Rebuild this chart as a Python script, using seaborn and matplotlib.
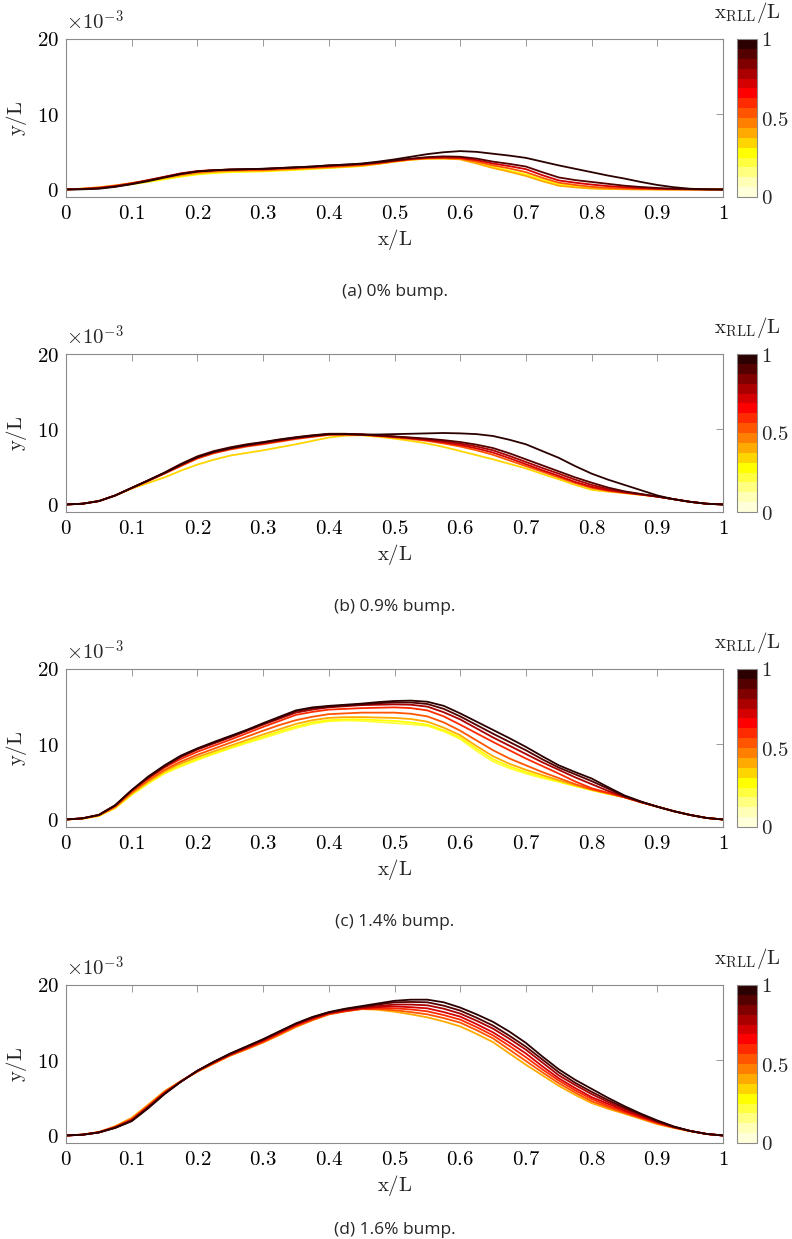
import numpy as np
import pandas as pd
import matplotlib
matplotlib.use("Agg")
import matplotlib.pyplot as plt
import seaborn as sns
from matplotlib.colors import ListedColormap, BoundaryNorm

# ---------------- data ----------------
x_pos = [0, 0.025, 0.05, 0.075, 0.1, 0.125, 0.15, 0.175, 0.2, 0.225, 0.25, 0.275, 0.3, 0.325,
         0.35, 0.375, 0.4, 0.425, 0.45, 0.475, 0.5, 0.525, 0.55, 0.575, 0.6, 0.625, 0.65, 0.675,
         0.7, 0.725, 0.75, 0.775, 0.8, 0.825, 0.85, 0.875, 0.9, 0.925, 0.95, 0.975, 1.0]

# panel (a) 0% bump : curves keyed by x_RLL/L
a_levels = [0.25, 0.4, 0.55, 0.7, 0.9, 1.0]
a_curves = [
    [0, 0.08, 0.2, 0.42, 0.7, 1.0, 1.35, 1.7, 2.0, 2.18, 2.3, 2.35, 2.4, 2.5, 2.6, 2.72, 2.85, 2.97, 3.1, 3.38,
     3.7, 3.95, 4.1, 4.12, 4.05, 3.55, 3.0, 2.5, 2.0, 1.3, 0.7, 0.4, 0.2, 0.1, 0.05, 0.02, 0, 0, 0, 0, 0],
    [0, 0.12, 0.3, 0.55, 0.85, 1.15, 1.5, 1.85, 2.15, 2.33, 2.45, 2.48, 2.5, 2.6, 2.7, 2.8, 2.9, 3.02, 3.15, 3.4,
     3.7, 3.95, 4.1, 4.1, 4.0, 3.45, 2.85, 2.35, 1.8, 1.1, 0.5, 0.28, 0.12, 0.06, 0.03, 0.01, 0, 0, 0, 0, 0],
    [0, 0.1, 0.25, 0.5, 0.85, 1.2, 1.6, 2.0, 2.3, 2.45, 2.55, 2.58, 2.6, 2.7, 2.8, 2.9, 3.0, 3.12, 3.25, 3.45,
     3.75, 4.0, 4.15, 4.18, 4.1, 3.7, 3.2, 2.8, 2.3, 1.55, 0.9, 0.6, 0.35, 0.22, 0.12, 0.07, 0.03, 0.01, 0, 0, 0],
    [0, 0.07, 0.2, 0.45, 0.8, 1.25, 1.7, 2.15, 2.45, 2.58, 2.65, 2.68, 2.7, 2.8, 2.9, 3.0, 3.1, 3.22, 3.35, 3.55,
     3.8, 4.05, 4.2, 4.25, 4.2, 3.9, 3.45, 3.1, 2.7, 1.9, 1.2, 0.9, 0.65, 0.45, 0.3, 0.18, 0.1, 0.05, 0.02, 0, 0],
    [0, 0.05, 0.15, 0.4, 0.75, 1.2, 1.65, 2.1, 2.4, 2.55, 2.65, 2.7, 2.75, 2.85, 2.95, 3.05, 3.2, 3.3, 3.4, 3.6,
     3.85, 4.1, 4.3, 4.4, 4.35, 4.1, 3.7, 3.4, 3.05, 2.3, 1.6, 1.25, 1.0, 0.75, 0.5, 0.33, 0.2, 0.1, 0.05, 0.02, 0],
    [0, 0.02, 0.1, 0.35, 0.7, 1.1, 1.6, 2.05, 2.4, 2.55, 2.65, 2.7, 2.75, 2.85, 2.95, 3.05, 3.2, 3.3, 3.45, 3.7,
     4.0, 4.35, 4.7, 4.95, 5.1, 5.0, 4.75, 4.5, 4.2, 3.7, 3.2, 2.75, 2.3, 1.85, 1.45, 1.0, 0.6, 0.3, 0.1, 0.02, 0],
]

# panel (b) 0.9% bump
b_levels = [0.35, 0.55, 0.7, 0.8, 0.9, 1.0]
b_curves = [
    [0, 0.1, 0.45, 1.2, 2.1, 2.85, 3.6, 4.5, 5.3, 5.95, 6.5, 6.85, 7.2, 7.6, 8.0, 8.45, 8.9, 9.15, 9.2, 9.0,
     8.75, 8.45, 8.1, 7.65, 7.1, 6.55, 6.0, 5.4, 4.8, 4.05, 3.35, 2.6, 1.95, 1.7, 1.5, 1.28, 1.05, 0.7, 0.35, 0.1, 0],
    [0, 0.1, 0.45, 1.2, 2.15, 3.1, 4.1, 5.1, 6.1, 6.8, 7.3, 7.7, 8.0, 8.35, 8.7, 8.98, 9.25, 9.28, 9.25, 9.1,
     8.9, 8.7, 8.45, 8.1, 7.7, 7.2, 6.6, 5.85, 5.1, 4.35, 3.6, 2.85, 2.2, 1.8, 1.55, 1.3, 1.05, 0.7, 0.35, 0.1, 0],
    [0, 0.1, 0.45, 1.2, 2.2, 3.15, 4.15, 5.2, 6.2, 6.9, 7.4, 7.8, 8.1, 8.45, 8.8, 9.05, 9.3, 9.32, 9.3, 9.15,
     9.0, 8.8, 8.55, 8.25, 7.9, 7.45, 6.9, 6.15, 5.35, 4.55, 3.8, 3.0, 2.35, 1.9, 1.6, 1.33, 1.05, 0.7, 0.35, 0.1, 0],
    [0, 0.1, 0.45, 1.2, 2.2, 3.2, 4.2, 5.3, 6.3, 7.0, 7.5, 7.9, 8.2, 8.55, 8.85, 9.1, 9.35, 9.35, 9.3, 9.15,
     9.0, 8.85, 8.65, 8.4, 8.1, 7.7, 7.2, 6.45, 5.65, 4.85, 4.1, 3.3, 2.6, 2.05, 1.65, 1.35, 1.05, 0.7, 0.35, 0.1, 0],
    [0, 0.1, 0.45, 1.2, 2.2, 3.2, 4.25, 5.4, 6.4, 7.1, 7.6, 8.0, 8.3, 8.65, 8.95, 9.2, 9.4, 9.4, 9.3, 9.2,
     9.05, 8.9, 8.75, 8.55, 8.3, 7.95, 7.5, 6.8, 6.0, 5.2, 4.4, 3.6, 2.9, 2.25, 1.75, 1.4, 1.05, 0.7, 0.35, 0.1, 0],
    [0, 0.1, 0.45, 1.2, 2.2, 3.2, 4.2, 5.3, 6.3, 7.0, 7.5, 7.9, 8.25, 8.6, 8.9, 9.15, 9.35, 9.35, 9.3, 9.3,
     9.35, 9.4, 9.45, 9.5, 9.45, 9.35, 9.1, 8.6, 8.0, 7.1, 6.2, 5.1, 4.1, 3.3, 2.6, 1.9, 1.2, 0.7, 0.35, 0.1, 0],
]

# panel (c) 1.4% bump
c_levels = [0.2, 0.3, 0.4, 0.5, 0.6, 0.75, 0.9, 1.0]
c_curves = [
    [0, 0.1, 0.45, 1.5, 3.25, 4.75, 6.1, 7.05, 7.9, 8.7, 9.45, 10.15, 10.8, 11.5, 12.15, 12.7, 13.05, 13.15, 13.1, 12.95,
     12.8, 12.65, 12.45, 11.7, 10.7, 9.1, 7.7, 6.8, 6.1, 5.5, 5.0, 4.45, 3.9, 3.4, 2.95, 2.3, 1.7, 1.1, 0.6, 0.2, 0],
    [0, 0.12, 0.5, 1.55, 3.35, 4.85, 6.2, 7.2, 8.05, 8.8, 9.55, 10.3, 11.0, 11.7, 12.35, 12.9, 13.2, 13.3, 13.3, 13.2,
     13.1, 12.9, 12.6, 11.85, 10.9, 9.4, 8.0, 7.05, 6.3, 5.65, 5.05, 4.45, 3.9, 3.4, 2.95, 2.3, 1.7, 1.1, 0.6, 0.2, 0],
    [0, 0.12, 0.5, 1.6, 3.45, 5.0, 6.4, 7.45, 8.3, 9.05, 9.8, 10.55, 11.3, 12.0, 12.7, 13.2, 13.5, 13.6, 13.6, 13.55,
     13.5, 13.35, 13.0, 12.2, 11.2, 9.75, 8.4, 7.4, 6.6, 5.9, 5.2, 4.55, 3.95, 3.45, 2.95, 2.3, 1.7, 1.1, 0.6, 0.2, 0],
    [0, 0.12, 0.55, 1.7, 3.6, 5.2, 6.6, 7.7, 8.6, 9.4, 10.2, 11.0, 11.8, 12.55, 13.2, 13.65, 14.0, 14.1, 14.2, 14.2,
     14.2, 14.05, 13.7, 12.9, 11.8, 10.5, 9.2, 8.1, 7.2, 6.3, 5.5, 4.7, 4.0, 3.5, 2.95, 2.3, 1.7, 1.1, 0.6, 0.2, 0],
    [0, 0.15, 0.6, 1.8, 3.8, 5.45, 6.9, 8.05, 9.0, 9.8, 10.6, 11.45, 12.3, 13.1, 13.9, 14.3, 14.6, 14.7, 14.8, 14.85,
     14.9, 14.8, 14.5, 13.7, 12.6, 11.45, 10.3, 9.2, 8.1, 7.1, 6.1, 5.05, 4.15, 3.55, 2.95, 2.3, 1.7, 1.1, 0.6, 0.2, 0],
    [0, 0.15, 0.6, 1.85, 3.85, 5.5, 7.0, 8.3, 9.3, 10.1, 10.9, 11.75, 12.6, 13.4, 14.2, 14.6, 14.9, 15.05, 15.2, 15.25,
     15.3, 15.25, 15.0, 14.25, 13.3, 12.1, 10.9, 9.8, 8.7, 7.6, 6.6, 5.6, 4.7, 3.8, 3.0, 2.3, 1.7, 1.1, 0.6, 0.2, 0],
    [0, 0.15, 0.6, 1.9, 3.9, 5.6, 7.1, 8.4, 9.4, 10.2, 11.0, 11.85, 12.7, 13.55, 14.4, 14.8, 15.0, 15.15, 15.3, 15.45,
     15.55, 15.55, 15.35, 14.7, 13.7, 12.55, 11.4, 10.3, 9.2, 8.0, 6.9, 6.0, 5.1, 4.1, 3.1, 2.35, 1.7, 1.1, 0.6, 0.2, 0],
    [0, 0.15, 0.6, 1.9, 3.9, 5.7, 7.2, 8.5, 9.45, 10.3, 11.1, 11.9, 12.8, 13.65, 14.5, 14.9, 15.1, 15.25, 15.4, 15.6,
     15.75, 15.8, 15.65, 15.1, 14.1, 13.0, 11.9, 10.8, 9.65, 8.4, 7.2, 6.3, 5.45, 4.3, 3.2, 2.4, 1.7, 1.1, 0.6, 0.2, 0],
]

# panel (d) 1.6% bump
d_levels = [0.4, 0.5, 0.6, 0.7, 0.8, 0.9, 1.0]
d_curves = [
    [0, 0.12, 0.45, 1.25, 2.35, 4.1, 5.9, 7.25, 8.45, 9.55, 10.6, 11.45, 12.35, 13.35, 14.4, 15.3, 16.1, 16.5, 16.8, 16.7,
     16.45, 16.1, 15.7, 15.15, 14.5, 13.5, 12.4, 10.9, 9.4, 8.0, 6.6, 5.4, 4.3, 3.55, 2.9, 2.2, 1.5, 1.0, 0.55, 0.2, 0],
    [0, 0.12, 0.45, 1.15, 2.2, 3.95, 5.8, 7.2, 8.5, 9.6, 10.65, 11.5, 12.4, 13.45, 14.5, 15.35, 16.1, 16.5, 16.8, 16.8,
     16.65, 16.4, 16.1, 15.6, 15.0, 14.0, 12.9, 11.4, 9.9, 8.4, 6.95, 5.7, 4.55, 3.75, 3.0, 2.3, 1.6, 1.05, 0.6, 0.2, 0],
    [0, 0.1, 0.42, 1.12, 2.1, 3.85, 5.7, 7.2, 8.55, 9.65, 10.7, 11.6, 12.5, 13.55, 14.6, 15.45, 16.2, 16.55, 16.85, 16.9,
     16.9, 16.75, 16.5, 16.0, 15.4, 14.4, 13.3, 11.9, 10.4, 8.8, 7.3, 6.0, 4.85, 3.95, 3.15, 2.4, 1.7, 1.1, 0.6, 0.2, 0],
    [0, 0.1, 0.42, 1.1, 2.05, 3.8, 5.65, 7.2, 8.6, 9.7, 10.75, 11.65, 12.6, 13.65, 14.7, 15.55, 16.25, 16.6, 16.9, 17.05,
     17.15, 17.05, 16.9, 16.4, 15.8, 14.8, 13.7, 12.35, 10.9, 9.2, 7.6, 6.3, 5.1, 4.2, 3.3, 2.5, 1.75, 1.1, 0.6, 0.2, 0],
    [0, 0.1, 0.4, 1.05, 2.0, 3.75, 5.6, 7.15, 8.6, 9.75, 10.8, 11.75, 12.7, 13.75, 14.8, 15.6, 16.3, 16.7, 17.0, 17.2,
     17.4, 17.4, 17.3, 16.85, 16.2, 15.25, 14.2, 12.85, 11.4, 9.7, 8.0, 6.7, 5.5, 4.45, 3.5, 2.65, 1.85, 1.15, 0.6, 0.2, 0],
    [0, 0.1, 0.4, 1.05, 1.95, 3.7, 5.55, 7.15, 8.6, 9.8, 10.85, 11.8, 12.75, 13.8, 14.85, 15.7, 16.35, 16.8, 17.1, 17.4,
     17.7, 17.75, 17.7, 17.25, 16.6, 15.65, 14.6, 13.25, 11.8, 10.1, 8.4, 7.0, 5.8, 4.7, 3.7, 2.8, 1.9, 1.15, 0.6, 0.2, 0],
    [0, 0.1, 0.4, 1.0, 1.9, 3.6, 5.5, 7.15, 8.6, 9.8, 10.9, 11.85, 12.8, 13.85, 14.9, 15.75, 16.4, 16.85, 17.2, 17.55,
     17.9, 18.05, 18.05, 17.7, 17.0, 16.1, 15.1, 13.8, 12.3, 10.5, 8.8, 7.4, 6.2, 5.0, 3.9, 2.9, 2.0, 1.2, 0.6, 0.2, 0],
]

captions = ["(a) 0% bump.", "(b) 0.9% bump.", "(c) 1.4% bump.", "(d) 1.6% bump."]
x_ticks = [0, 0.1, 0.2, 0.3, 0.4, 0.5, 0.6, 0.7, 0.8, 0.9, 1]
y_ticks = [0, 10, 20]
cb_ticks = [0, 0.5, 1]

# flipped 16-level "hot" colormap (0 -> pale, 1 -> near black)
hot16 = [
    (1, 1, 0.85), (1, 1, 0.72), (1, 1, 0.5), (1, 1, 0.25), (1, 1, 0),
    (1, 5/6, 0), (1, 4/6, 0), (1, 0.5, 0), (1, 2/6, 0), (1, 1/6, 0),
    (1, 0, 0), (5/6, 0, 0), (4/6, 0, 0), (0.5, 0, 0), (2/6, 0, 0), (1/6, 0, 0),
]
cmap = ListedColormap(hot16)
norm = BoundaryNorm(np.linspace(0, 1, 17), 16)

# ---------------- style ----------------
sns.set_theme(style="white")
plt.rcParams["mathtext.fontset"] = "cm"
plt.rcParams["font.family"] = ["DejaVu Serif"]

W, H = 792, 1239
fig = plt.figure(figsize=(W / 100, H / 100), dpi=100)

ax_left, ax_right = 66, 723
tops = [39, 354, 669, 985]
caption_y = [292, 607, 922, 1230]
ax_h = 158
grey = "#8a8a8a"

panels = [(a_levels, a_curves), (b_levels, b_curves), (c_levels, c_curves), (d_levels, d_curves)]

for i, (levels, curves) in enumerate(panels):
    top = tops[i]
    ax = fig.add_axes([ax_left / W, 1 - (top + ax_h) / H, (ax_right - ax_left) / W, ax_h / H])
    rows = []
    for lv, ys in zip(levels, curves):
        for xv, yv in zip(x_pos, ys):
            rows.append({"x": xv, "y": yv, "lvl": lv})
    df = pd.DataFrame(rows)
    pal = {lv: cmap(norm(lv if lv < 1 else 0.999)) for lv in levels}
    sns.lineplot(data=df, x="x", y="y", hue="lvl", hue_order=levels, palette=pal,
                 estimator=None, sort=False, legend=False, linewidth=1.3, ax=ax)
    ax.set_xlim(0, 1)
    ax.set_ylim(-1, 20)
    ax.set_xticks(x_ticks)
    ax.set_xticklabels([f"${t:g}$" for t in x_ticks])
    ax.set_yticks(y_ticks)
    ax.set_yticklabels([f"${t:g}$" for t in y_ticks])
    ax.tick_params(direction="in", top=True, right=True, length=5, width=0.6,
                   color=grey, labelsize=15, labelcolor="black", pad=5)
    for sp in ax.spines.values():
        sp.set_color(grey)
        sp.set_linewidth(0.8)
    ax.set_xlabel(r"$\mathrm{x/L}$", fontsize=15, labelpad=3)
    ax.set_ylabel(r"$\mathrm{y/L}$", fontsize=15, labelpad=6)
    ax.text(0.0, 1.03, r"$\times 10^{-3}$", transform=ax.transAxes, fontsize=15,
            ha="left", va="bottom")

    cax = fig.add_axes([737 / W, 1 - (top + ax_h) / H, 20 / W, ax_h / H])
    sm = matplotlib.cm.ScalarMappable(norm=norm, cmap=cmap)
    cb = fig.colorbar(sm, cax=cax, ticks=cb_ticks)
    cb.minorticks_off()
    cb.ax.set_yticklabels([f"${t:g}$" for t in cb_ticks])
    cb.ax.tick_params(which="both", length=0, labelsize=15, pad=3)
    cb.outline.set_edgecolor(grey)
    cb.outline.set_linewidth(0.8)
    cax.set_title(r"$\mathrm{x_{RLL}/L}$", fontsize=15, pad=15)

    fig.text((ax_left + ax_right) / 2 / W, 1 - caption_y[i] / H, captions[i],
             ha="center", va="center", fontsize=12.5, family=["Open Sans", "DejaVu Sans"])

fig.savefig("out.png", dpi=100)
